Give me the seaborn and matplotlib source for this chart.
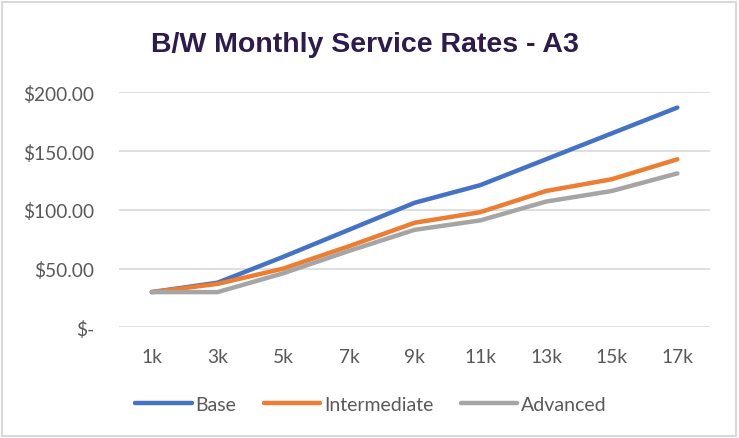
import pandas as pd
import seaborn as sns
import matplotlib.pyplot as plt
from matplotlib.patches import Rectangle
from matplotlib.ticker import FuncFormatter

# data
volumes = ["1k", "3k", "5k", "7k", "9k", "11k", "13k", "15k", "17k"]
base = [30, 38, 60, 83, 106, 121, 143, 165, 187]
intermediate = [30, 37, 50, 69, 89, 98, 116, 126, 143]
advanced = [30, 30, 46, 65, 83, 91, 107, 116, 131]

df = pd.DataFrame({
    "Volume": volumes * 3,
    "Rate": base + intermediate + advanced,
    "Level": ["Base"] * 9 + ["Intermediate"] * 9 + ["Advanced"] * 9,
})

sns.set_theme(style="white")
plt.rcParams['font.family'] = ['Lato', 'DejaVu Sans']

txt = '#595959'
fig = plt.figure(figsize=(7.39, 4.39), dpi=100)
ax = fig.add_axes([0.161, 0.252, 0.8, 0.5355])

sns.lineplot(data=df, x="Volume", y="Rate", hue="Level", ax=ax, sort=False,
             palette=["#4472C4", "#ED7D31", "#A5A5A5"], linewidth=3.2,
             solid_capstyle='round', legend=False)

ax.set_ylim(0, 200)
ax.set_yticks([0, 50, 100, 150, 200])
ax.yaxis.set_major_formatter(FuncFormatter(lambda v, p: "$-" if v == 0 else f"${v:.2f}"))
ax.set_xlim(-0.5, 8.5)
ax.grid(axis='y', color='#D9D9D9', linewidth=1.2)
ax.set_axisbelow(True)
sns.despine(ax=ax, left=True, bottom=True)
ax.tick_params(axis='y', length=0, pad=18, labelsize=13.8, labelcolor=txt)
ax.tick_params(axis='x', length=0, pad=15, labelsize=13.8, labelcolor=txt)
ax.set_xlabel("")
ax.set_ylabel("")

fig.text(0.494, 0.897, "B/W Monthly Service Rates - A3", ha='center', va='center',
         fontsize=20.5, fontweight='heavy', color='#2D1B4E',
         family=['Liberation Sans', 'DejaVu Sans'])

leg = fig.legend(ax.get_lines()[:3], ["Base", "Intermediate", "Advanced"],
                 loc='center', bbox_to_anchor=(0.502, 0.077), ncol=3, frameon=False,
                 fontsize=14, handlelength=2.9, handletextpad=0.2, columnspacing=1.4)
for t in leg.get_texts():
    t.set_color(txt)

# chart border
fig.patches.append(Rectangle((0.003, 0.004), 0.993, 0.99, transform=fig.transFigure,
                             fill=False, edgecolor='#D9D9D9', linewidth=1.5))

fig.savefig("out.png", dpi=100)
